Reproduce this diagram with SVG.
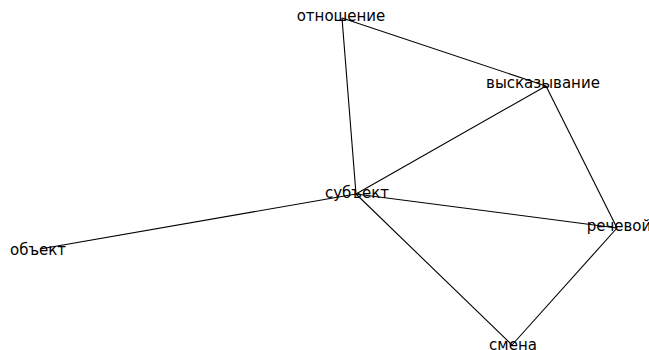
<svg xmlns="http://www.w3.org/2000/svg" width="649" height="350" viewBox="0 0 649 350">
<style>
.e{stroke:#000;stroke-width:1.1;fill:none}
.t{font-family:"DejaVu Sans",sans-serif;font-size:15px;fill:#000;text-anchor:middle}
</style>
<rect width="649" height="350" fill="#fff"/>
<g id="edges">
<line class="e" x1="342" y1="18" x2="546" y2="86"/>
<line class="e" x1="342" y1="18" x2="356" y2="194"/>
<line class="e" x1="546" y1="86" x2="356" y2="194"/>
<line class="e" x1="546" y1="86" x2="617" y2="228"/>
<line class="e" x1="356" y1="194" x2="617" y2="228"/>
<line class="e" x1="356" y1="194" x2="40" y2="249"/>
<line class="e" x1="356" y1="194" x2="512" y2="345"/>
<line class="e" x1="617" y1="228" x2="512" y2="345"/>
</g>
<g id="n1"><text class="t" x="341" y="21">отношение</text></g>
<g id="n2"><text class="t" x="543" y="88">высказывание</text></g>
<g id="n3"><text class="t" x="357" y="198">субъект</text></g>
<g id="n4"><text class="t" x="619" y="231">речевой</text></g>
<g id="n5"><text class="t" x="38" y="255">объект</text></g>
<g id="n6"><text class="t" x="513" y="349.5">смена</text></g>
</svg>
